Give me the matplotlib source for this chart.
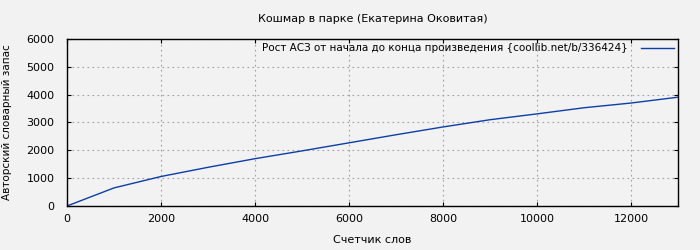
import matplotlib
matplotlib.use("Agg")
import matplotlib.pyplot as plt

words = [0, 1000, 2000, 3000, 4000, 5000, 6000, 7000, 8000, 9000, 10000, 11000, 12000, 13000]
vocab = [0, 650, 1060, 1390, 1700, 1980, 2270, 2560, 2840, 3100, 3310, 3530, 3700, 3910]
xticks = [0, 2000, 4000, 6000, 8000, 10000, 12000]
yticks = [0, 1000, 2000, 3000, 4000, 5000, 6000]

bg = '#f2f2f2'
fig = plt.figure(figsize=(7, 2.5), dpi=100, facecolor=bg)
ax = fig.add_axes([0.0957, 0.176, 0.873, 0.668], facecolor=bg)

ax.plot(words, vocab, color='#0a3fa8', linewidth=1,
        label='Рост АСЗ от начала до конца произведения {coollib.net/b/336424}')

ax.set_xlim(0, 13000)
ax.set_ylim(0, 6000)
ax.set_xticks(xticks)
ax.set_yticks(yticks)
ax.grid(True, color='#a0a0a0', linestyle=(0, (1.5, 3)), linewidth=0.8)
ax.tick_params(labelsize=8, direction='in', length=3, top=True, right=True)
ax.tick_params(axis='x', pad=6)
ax.tick_params(axis='y', pad=9)
for s in ax.spines.values():
    s.set_linewidth(1)

ax.set_title('Кошмар в парке (Екатерина Оковитая)', fontsize=8, pad=12)
ax.set_xlabel('Счетчик слов', fontsize=8, labelpad=8)
ax.set_ylabel('Авторский словарный запас', fontsize=7.5)
ax.yaxis.set_label_coords(-0.09, 0.5)

ax.legend(loc='upper right', frameon=False, fontsize=7.5, markerfirst=False,
          handlelength=3.2, handletextpad=1.2, borderaxespad=0.1, borderpad=0.3)

plt.savefig('out.png', dpi=100, facecolor=bg)
